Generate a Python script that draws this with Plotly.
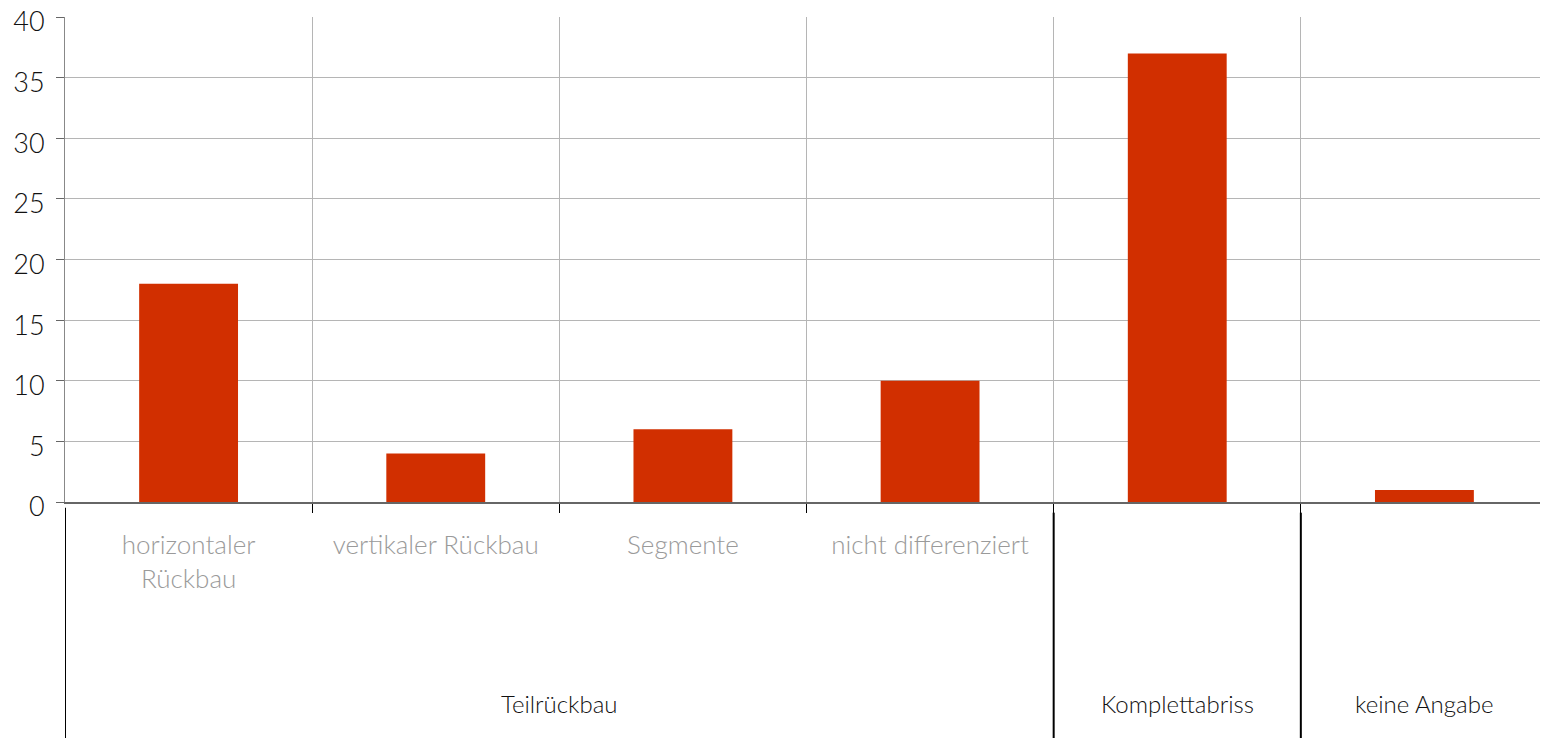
import plotly.graph_objects as go

# Daten
sub_labels = ['horizontaler<br>Rückbau', 'vertikaler Rückbau', 'Segmente',
              'nicht differenziert', '', '']
values = [18, 4, 6, 10, 37, 1]
groups = ['Teilrückbau', 'Komplettabriss', 'keine Angabe']
group_bounds = [(-0.5, 3.5), (3.5, 4.5), (4.5, 5.5)]
y_ticks = [0, 5, 10, 15, 20, 25, 30, 35, 40]

x_pos = list(range(len(values)))

fig = go.Figure()
fig.add_trace(go.Bar(
    x=x_pos,
    y=values,
    width=0.4,
    marker=dict(color='#d12f00', line=dict(width=0)),
    hoverinfo='y',
))

# Trennlinien der Gruppen unterhalb der Achse
shapes = []
for left, right in group_bounds:
    y0 = -0.022 if left > -0.5 else -0.012
    shapes.append(dict(type='line', xref='x', yref='paper',
                       x0=left, x1=left, y0=y0, y1=-0.49,
                       line=dict(color='black', width=2)))

annotations = []
for g, (left, right) in zip(groups, group_bounds):
    annotations.append(dict(
        text=g, xref='x', yref='paper', x=(left + right) / 2, y=-0.416,
        showarrow=False, font=dict(size=24, color='#111111', weight=300),
        xanchor='center', yanchor='middle'))

# die Seite hat 8px Rand, daher etwas kleiner
fig.update_layout(
    width=1540, height=730,
    margin=dict(l=57, r=0, t=9, b=236),
    plot_bgcolor='white', paper_bgcolor='white',
    font=dict(family='Lato, Open Sans, sans-serif'),
    showlegend=False,
    bargap=0.6,
    shapes=shapes,
    annotations=annotations,
    xaxis=dict(
        range=[-0.5, 5.5],
        tickmode='array', tickvals=x_pos, ticktext=sub_labels,
        ticks='', showgrid=False,
        tickfont=dict(size=26, color='#9a9a9a', weight=300),
        ticklabelstandoff=19,
        showline=True, linecolor='#666666', linewidth=1.5,
        zeroline=False, automargin=False,
        minor=dict(tickvals=[0.5, 1.5, 2.5, 3.5, 4.5], showgrid=True,
                   gridcolor='#b5b5b5', gridwidth=1,
                   ticks='outside', ticklen=9, tickcolor='black', tickwidth=1),
        fixedrange=True,
    ),
    yaxis=dict(
        range=[0, 40],
        tickmode='array', tickvals=y_ticks,
        showgrid=True, gridcolor='#b5b5b5', gridwidth=1,
        ticks='outside', ticklen=8, tickcolor='#666666',
        tickfont=dict(size=27, color='#111111', weight=300),
        ticklabelstandoff=6,
        ticklabelshift=5,
        ticklabeloverflow='allow',
        showline=True, linecolor='#888888', linewidth=1,
        zeroline=False, automargin=False,
        fixedrange=True,
    ),
)

fig.write_html("out.html")
